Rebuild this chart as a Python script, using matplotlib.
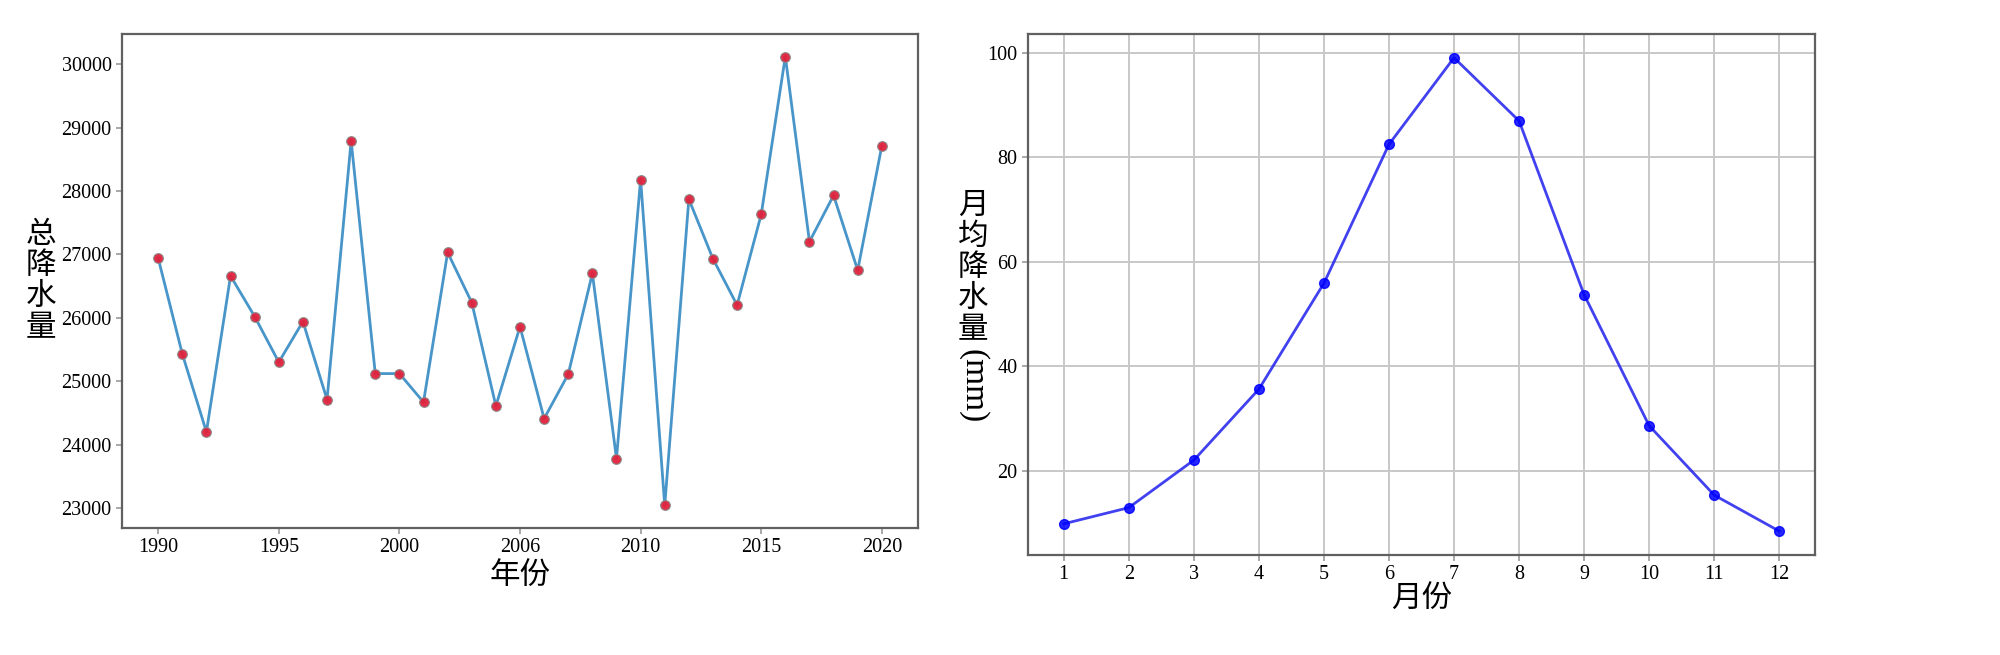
import matplotlib
matplotlib.use("Agg")
import matplotlib.pyplot as plt

plt.rcParams['font.family'] = ['Liberation Serif', 'Noto Sans CJK SC', 'DejaVu Sans']

# 年总降水量
years = list(range(1990, 2021))
total_rain = [26940, 25430, 24200, 26660, 26020, 25300, 25940, 24710, 28790, 25120,
              25120, 24670, 27030, 26240, 24610, 25860, 24410, 25110, 26700, 23780,
              28180, 23040, 27870, 26930, 26200, 27630, 30120, 27200, 27930, 26750,
              28710]
year_ticks = [1990, 1995, 2000, 2005, 2010, 2015, 2020]
year_labels = ['1990', '1995', '2000', '2006', '2010', '2015', '2020']

# 月均降水量
months = list(range(1, 13))
month_rain = [9.8, 12.9, 22.0, 35.6, 55.9, 82.5, 99.1, 87.0, 53.7, 28.6, 15.3, 8.4]

fig = plt.figure(figsize=(20, 6.55), dpi=100)
cjk = ['Noto Sans CJK SC', 'Liberation Serif']
spine_col = '#606060'

# ---- 左图
ax1 = fig.add_axes([0.061, 0.194, 0.398, 0.754])
ax1.plot(years, total_rain, color='#3d8fc6', lw=2.0, marker='o', ms=7,
         mfc='#e0213b', mec='#8a8a8a', mew=0.8, alpha=0.95)
ax1.set_xticks(year_ticks)
ax1.set_xticklabels(year_labels)
ax1.set_xlabel('年份', fontsize=22, family=cjk, labelpad=2)
ax1.text(0.0205, 0.571, '总\n降\n水\n量', transform=fig.transFigure, fontsize=22,
         family=cjk, ha='center', va='center', linespacing=1.0)

# ---- 右图
ax2 = fig.add_axes([0.514, 0.153, 0.3935, 0.795])
ax2.plot(months, month_rain, color='#2020ee', lw=2, marker='o', ms=7,
         mfc='#0000ff', mec='#0000ff', alpha=0.85)
ax2.set_xticks(months)
ax2.set_yticks([20, 40, 60, 80, 100])
ax2.grid(True, color='#c8c8c8', lw=1.4)
ax2.set_axisbelow(True)
ax2.set_xlabel('月份', fontsize=22, family=cjk, labelpad=0)
ax2.text(0.4865, 0.592, '月\n均\n降\n水\n量', transform=fig.transFigure, fontsize=22,
         family=cjk, ha='center', va='center', linespacing=1.0)
ax2.text(0.4865, 0.41, '(mm)', transform=fig.transFigure, fontsize=24,
         rotation=-90, ha='center', va='center')

for ax in (ax1, ax2):
    for s in ax.spines.values():
        s.set_color(spine_col)
        s.set_linewidth(1.6)
    ax.tick_params(labelsize=14.5, color='#999999', length=4, width=1.2)

fig.savefig('out.png', dpi=100)
